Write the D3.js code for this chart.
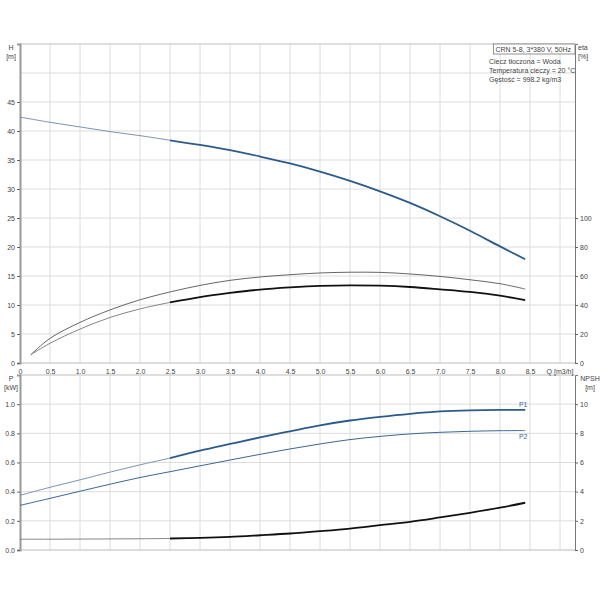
<!DOCTYPE html>
<html>
<head>
<meta charset="utf-8">
<script src="https://cdn.jsdelivr.net/npm/d3@7"></script>
<style>
  body { margin: 0; background: #fff; }
  text { font-family: "Liberation Sans", Arial, sans-serif; -webkit-font-smoothing: antialiased; }
</style>
</head>
<body>
<div id="chart"></div>
<script>
// 流量 Q [m3/h]
const qFull = [0, 0.5, 1, 1.5, 2, 2.5, 3, 3.5, 4, 4.5, 5, 5.5, 6, 6.5, 7, 7.5, 8, 8.42];
const qEta = [0.18, 0.5, 1, 1.5, 2, 2.5, 3, 3.5, 4, 4.5, 5, 5.5, 6, 6.5, 7, 7.5, 8, 8.42];

// 揚程 H [m]
const headH = [42.4, 41.5, 40.7, 39.9, 39.2, 38.4, 37.6, 36.7, 35.6, 34.4, 33.0, 31.4, 29.6, 27.6, 25.3, 22.8, 20.1, 17.9];
// 效率 eta [%]
const etaUpper = [5.7, 17.0, 28.0, 36.6, 43.6, 49.0, 53.5, 57.0, 59.3, 60.9, 62.1, 62.6, 62.5, 61.4, 59.7, 57.4, 54.7, 51.0];
const etaLower = [5.7, 13.6, 23.4, 31.4, 37.3, 41.8, 45.5, 48.3, 50.6, 52.1, 53.2, 53.6, 53.3, 52.4, 50.8, 49.0, 46.4, 43.4];
// 功率 P [kW]
const powerP1 = [0.375, 0.430, 0.481, 0.534, 0.584, 0.630, 0.681, 0.727, 0.772, 0.814, 0.855, 0.888, 0.913, 0.934, 0.950, 0.958, 0.961, 0.961];
const powerP2 = [0.306, 0.354, 0.403, 0.451, 0.497, 0.537, 0.577, 0.617, 0.656, 0.693, 0.727, 0.757, 0.779, 0.796, 0.807, 0.814, 0.818, 0.819];
// NPSH [m]
const npsh = [0.74, 0.74, 0.75, 0.76, 0.77, 0.79, 0.83, 0.90, 1.01, 1.13, 1.29, 1.47, 1.70, 1.93, 2.23, 2.55, 2.90, 3.24];

// 刻度
const qTicks = [0, 0.5, 1, 1.5, 2, 2.5, 3, 3.5, 4, 4.5, 5, 5.5, 6, 6.5, 7, 7.5, 8, 8.5];
const hTicks = [0, 5, 10, 15, 20, 25, 30, 35, 40, 45];
const etaTicks = [0, 20, 40, 60, 80, 100];
const pTicks = [0, 0.2, 0.4, 0.6, 0.8, 1.0];
const npshTicks = [0, 2, 4, 6, 8, 10];

const infoLines = ["Ciecz tłoczona = Woda", "Temperatura cieczy = 20 °C", "Gęstość = 998.2 kg/m3"];
const pumpTitle = "CRN 5-8, 3*380 V, 50Hz";

const thickFrom = 2.5;
const width = 600, height = 600;
const left = 20, right = 575;
const fontSize = "7px";
const textColor = "#444";

const svg = d3.select("#chart").append("svg").attr("width", width).attr("height", height);

const x = d3.scaleLinear().domain([0, 9.25]).range([left, right]);

// 上圖
const yH = d3.scaleLinear().domain([0, 55]).range([363, 44]);
const yEta = d3.scaleLinear().domain([0, 220]).range([363, 44]);
// 下圖
const yP = d3.scaleLinear().domain([0, 1.2]).range([550, 375]);
const yN = d3.scaleLinear().domain([0, 12]).range([550, 375]);

function grid(yScale, yTickVals) {
  const [y0, y1] = yScale.range();
  const g = svg.append("g").attr("stroke", "#dcdcdc").attr("stroke-width", 1);
  d3.range(0.5, 9.01, 0.5).forEach((v) => {
    g.append("line").attr("x1", x(v)).attr("x2", x(v)).attr("y1", y1).attr("y2", y0);
  });
  yTickVals.forEach((v) => {
    g.append("line").attr("x1", left).attr("x2", right).attr("y1", yScale(v)).attr("y2", yScale(v));
  });
  // 外框
  g.append("line").attr("x1", left).attr("x2", right).attr("y1", y1).attr("y2", y1).attr("stroke", "#cfcfcf");
  g.append("line").attr("x1", left).attr("x2", right).attr("y1", y0).attr("y2", y0).attr("stroke", "#bbb");
}

grid(yH, d3.range(5, 55.1, 5));
grid(yP, d3.range(0.2, 1.21, 0.2));

function styleAxis(g, domainColor, domainWidth) {
  g.select(".domain").attr("stroke", domainColor).attr("stroke-width", domainWidth);
  g.selectAll(".tick line").attr("stroke", "#666");
  g.selectAll(".tick text").style("font-size", fontSize).attr("fill", textColor);
}

function leftAxis(scale, ticks, fmt) {
  const g = svg.append("g").attr("transform", `translate(${left},0)`)
    .call(d3.axisLeft(scale).tickValues(ticks).tickSize(3).tickPadding(2).tickFormat(fmt));
  styleAxis(g, "#999", 2);
}

function rightAxis(scale, ticks, fmt) {
  const g = svg.append("g").attr("transform", `translate(${right},0)`)
    .call(d3.axisRight(scale).tickValues(ticks).tickSize(3).tickPadding(2).tickFormat(fmt));
  styleAxis(g, "#777", 1);
}

leftAxis(yH, hTicks, d3.format("d"));
rightAxis(yEta, etaTicks, d3.format("d"));
leftAxis(yP, pTicks, d3.format(".1f"));
rightAxis(yN, npshTicks, d3.format("d"));

// 橫軸標籤
const xg = svg.append("g").attr("transform", "translate(0,363)")
  .call(d3.axisBottom(x).tickValues(qTicks).tickSize(0).tickPadding(6)
    .tickFormat((d) => (d === 0 ? "0" : d3.format(".1f")(d))));
xg.select(".domain").remove();
xg.selectAll(".tick text").style("font-size", fontSize).attr("fill", textColor);
svg.append("text").attr("x", x(9.0)).attr("y", 374).attr("text-anchor", "middle")
  .style("font-size", fontSize).attr("fill", textColor).text("Q [m3/h]");

// 軸單位
function unitLabel(xp, yp, lines, anchor) {
  lines.forEach((t, i) => {
    svg.append("text").attr("x", xp).attr("y", yp + i * 8.5).attr("text-anchor", anchor)
      .style("font-size", fontSize).attr("fill", textColor).text(t);
  });
}
unitLabel(11, 50, ["H", "[m]"], "middle");
unitLabel(578, 50, ["eta", "[%]"], "start");
unitLabel(11, 381, ["P", "[kW]"], "middle");
unitLabel(590, 381, ["NPSH", "[m]"], "middle");

// 資訊框
const box = svg.append("g");
const boxRect = box.append("rect").attr("fill", "#fff").attr("stroke", "#777").attr("stroke-width", 0.8);
const titleText = box.append("text").attr("x", 571).attr("y", 51.5).attr("text-anchor", "end")
  .style("font-size", fontSize).attr("fill", textColor).text(pumpTitle);
const bb = titleText.node().getBBox();
boxRect.attr("x", bb.x - 2).attr("y", 44).attr("width", right - (bb.x - 2)).attr("height", 10);
infoLines.forEach((t, i) => {
  svg.append("text").attr("x", 489).attr("y", 64 + i * 9).style("font-size", fontSize)
    .attr("fill", textColor).text(t);
});

// 曲線（前段細線，2.5 之後粗線）
function curve(qs, vals, yScale, color, thinColor, thick, thinAll) {
  const pts = qs.map((q, i) => [q, vals[i]]);
  const line = d3.line().x((d) => x(d[0])).y((d) => yScale(d[1])).curve(d3.curveCatmullRom.alpha(0.5));
  if (thinAll) {
    svg.append("path").attr("d", line(pts)).attr("fill", "none")
      .attr("stroke", color).attr("stroke-width", thick);
    return;
  }
  const thinPts = pts.filter((d) => d[0] <= thickFrom);
  const thickPts = pts.filter((d) => d[0] >= thickFrom);
  svg.append("path").attr("d", line(thinPts)).attr("fill", "none")
    .attr("stroke", thinColor).attr("stroke-width", 0.9);
  svg.append("path").attr("d", line(thickPts)).attr("fill", "none")
    .attr("stroke", color).attr("stroke-width", thick);
}

curve(qFull, headH, yH, "#2b5b8c", "#6f86a8", 1.8, false);
curve(qEta, etaUpper, yEta, "#555", "#555", 0.9, true);
curve(qEta, etaLower, yEta, "#111", "#777", 1.8, false);
curve(qFull, powerP1, yP, "#2b5b8c", "#6f86a8", 1.8, false);
curve(qFull, powerP2, yP, "#3a6794", "#3a6794", 1.0, true);
curve(qFull, npsh, yN, "#111", "#777", 1.8, false);

// P1 / P2 標籤
const qEnd = qFull[qFull.length - 1];
svg.append("text").attr("x", x(qEnd) - 2).attr("y", yP(powerP1[powerP1.length - 1]) - 2.5)
  .attr("text-anchor", "middle").style("font-size", fontSize).attr("fill", "#3a6794").text("P1");
svg.append("text").attr("x", x(qEnd) - 2).attr("y", yP(powerP2[powerP2.length - 1]) + 8)
  .attr("text-anchor", "middle").style("font-size", fontSize).attr("fill", "#3a6794").text("P2");
</script>
</body>
</html>
